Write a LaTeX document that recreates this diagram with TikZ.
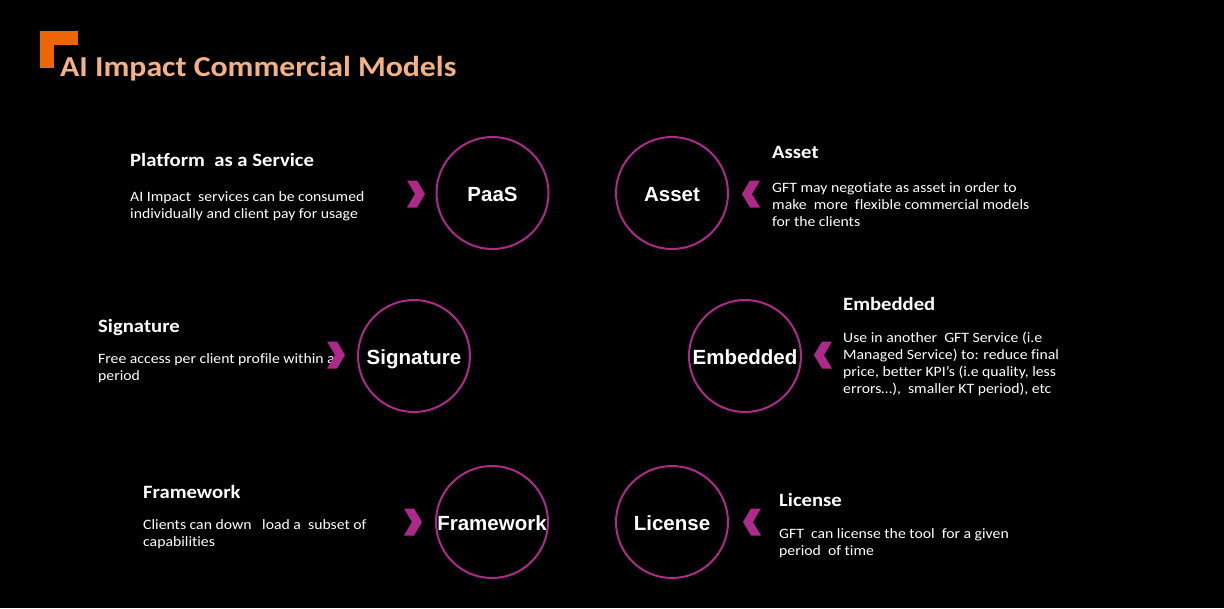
\documentclass[tikz,border=0pt]{standalone}
\usepackage{fontspec}
\setmainfont{Carlito}[FakeStretch=1.1, Ligatures=NoCommon]
\newfontfamily\labelfont{Liberation Sans}
\definecolor{accent}{HTML}{AD2A8A}
\definecolor{titlepeach}{HTML}{F4B183}
\definecolor{cornerorange}{HTML}{EC6608}
\newcommand{\bodylines}[1]{\begin{tabular}[t]{@{}l@{}}#1\end{tabular}}
\tikzset{
  model/.style={circle, draw=accent, line width=2pt, minimum size=112pt, inner sep=0pt,
    text height=16.6pt, text depth=0pt,
    font=\labelfont\bfseries\fontsize{20.5}{24}\selectfont, text=white},
  heading/.style={anchor=base west, inner sep=0pt, text=white,
    font=\bfseries\fontsize{18.8}{22}\selectfont},
  bodytext/.style={anchor=base west, inner sep=0pt, text=white,
    font=\fontsize{14.3}{17}\selectfont},
  chev/.pic={\fill[accent] (-9,-13.5) -- (1,-13.5) -- (9,0) -- (1,13.5) -- (-9,13.5) -- (-1,0) -- cycle;}
}
\begin{document}
\begin{tikzpicture}[x=1pt,y=-1pt]
  \fill[black] (0,0) rectangle (1224,608);
  \useasboundingbox (0,0) rectangle (1224,608);

  % title with orange corner mark
  \fill[cornerorange] (40,31) rectangle (78,45);
  \fill[cornerorange] (40,31) rectangle (54,68);
  \node[anchor=base west, inner sep=0pt, text=titlepeach,
    font=\bfseries\fontsize{28.9}{34}\selectfont] (title) at (60,76) {AI Impact Commercial Models};

  % model circles
  \node[model] (paas) at (492.5,193) {PaaS};
  \node[model] (asset) at (672,193) {Asset};
  \node[model] (signature) at (414,356) {Signature};
  \node[model] (embedded) at (745,356) {Embedded};
  \node[model] (framework) at (492,522) {Framework};
  \node[model] (license) at (672,522) {License};

  % descriptions
  \node[heading] (paash) at (130,166) {Platform\ \ as a Service};
  \node[bodytext] (paasb) at (130,201) {\bodylines{AI Impact\ \ services can be consumed\\individually and client pay for usage}};

  \node[heading] (asseth) at (772,158) {Asset};
  \node[bodytext] (assetb) at (772,192) {\bodylines{GFT may negotiate as asset in order to\\make\ \ more\ \ flexible commercial models\\for the clients}};

  \node[heading] (signatureh) at (98,332) {Signature};
  \node[bodytext] (signatureb) at (98,363) {\bodylines{Free access per client profile within a\\period}};

  \node[heading] (embeddedh) at (843,310) {Embedded};
  \node[bodytext] (embeddedb) at (843,342) {\bodylines{Use in another\ \ GFT Service (i.e\\Managed Service) to: reduce final\\price, better KPI’s (i.e quality, less\\errors…),\ \ smaller KT period), etc}};

  \node[heading] (frameworkh) at (143,498) {Framework};
  \node[bodytext] (frameworkb) at (143,529) {\bodylines{Clients can down\ \ \ load a\ \ subset of\\capabilities}};

  \node[heading] (licenseh) at (779,506) {License};
  \node[bodytext] (licenseb) at (779,538) {\bodylines{GFT\ \ can license the tool\ \ for a given\\period\ \ of time}};

  % chevrons pointing at the circles
  \pic at (416,194) {chev};
  \pic[xscale=-1] at (751,194) {chev};
  \pic at (336,355) {chev};
  \pic[xscale=-1] at (823,355) {chev};
  \pic at (413,522) {chev};
  \pic[xscale=-1] at (752,522) {chev};
\end{tikzpicture}
\end{document}
